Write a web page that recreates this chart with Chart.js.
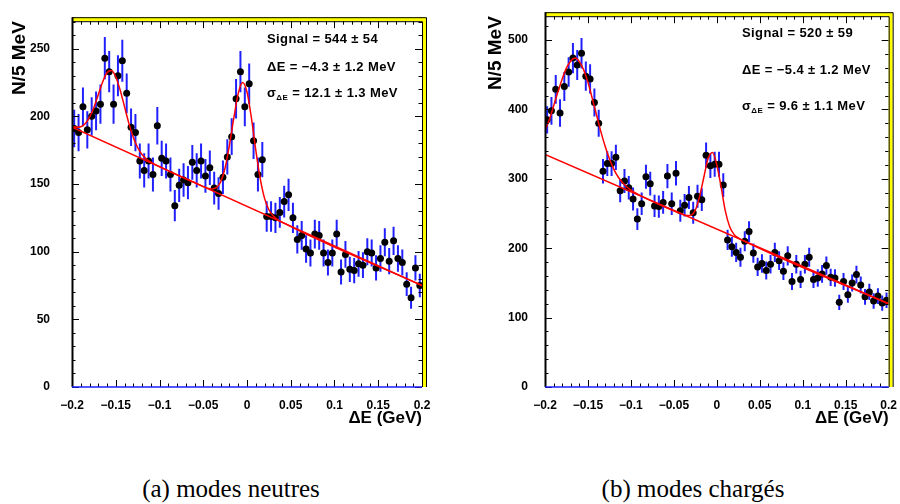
<!DOCTYPE html>
<html>
<head>
<meta charset="utf-8">
<title>Delta E fits</title>
<script src="https://cdn.jsdelivr.net/npm/chart.js@4.4.1/dist/chart.umd.min.js"></script>
<style>
  body { margin: 0; background: #fff; }
  #page { position: relative; width: 900px; height: 504px; overflow: hidden; }
  canvas { position: absolute; top: 0; }
  .fitText { position: absolute; font: bold 13px "Liberation Sans", Arial, sans-serif; letter-spacing: 0.4px; line-height: 14px; white-space: nowrap; color: #000; }
  .fitText sub { font-size: 8px; vertical-align: -3px; line-height: 0; }
  .caption { position: absolute; top: 474px; width: 300px; text-align: center; font: 25px "Liberation Serif", "Times New Roman", serif; line-height: 30px; color: #000; }
</style>
</head>
<body>
<div id="page">
  <canvas id="neutresChart" width="450" height="440" style="left:0px"></canvas>
  <canvas id="chargesChart" width="450" height="440" style="left:450px"></canvas>

  <div class="fitText" style="left:267px;top:32px">Signal = 544 ± 54</div>
  <div class="fitText" style="left:267px;top:60px">ΔE = −4.3 ± 1.2 MeV</div>
  <div class="fitText" style="left:267px;top:86px">σ<sub>ΔE</sub> = 12.1 ± 1.3 MeV</div>

  <div class="fitText" style="left:742px;top:26px">Signal = 520 ± 59</div>
  <div class="fitText" style="left:742px;top:63px">ΔE = −5.4 ± 1.2 MeV</div>
  <div class="fitText" style="left:742px;top:99px">σ<sub>ΔE</sub> = 9.6 ± 1.1 MeV</div>

  <div class="caption" style="left:81px">(a) modes neutres</div>
  <div class="caption" style="left:543px">(b) modes chargés</div>
</div>

<script>
// 80 bins of 5 MeV between -0.2 and 0.2 GeV
var binStart = -0.2, binWidth = 0.005;
var binCentres = [];
for (var b = 0; b < 80; b++) binCentres.push(+(binStart + (b + 0.5) * binWidth).toFixed(4));

var xTickValues = [-0.2, -0.15, -0.1, -0.05, 0, 0.05, 0.1, 0.15, 0.2];
var xTickLabels = ['\u22120.2', '\u22120.15', '\u22120.1', '\u22120.05', '0', '0.05', '0.1', '0.15', '0.2'];

// (a) modes neutres
var neutresCounts = [
  191, 188, 207, 190, 200, 204, 209, 243, 233, 209,
  230, 241, 217, 192, 188, 167, 160, 167, 157, 193,
  169, 167, 157, 134, 149, 153, 151, 166, 160, 167,
  156, 162, 147, 143, 155, 170, 185, 213, 233, 207,
  224, 182, 157, 168, 126, 126, 125, 129, 137, 142,
  125, 109, 112, 102, 99, 113, 112, 99, 92, 99,
  113, 85, 98, 87, 86, 91, 90, 100, 99, 88,
  95, 107, 93, 108, 95, 92, 76, 66, 88, 75
];
var neutresFitX = [-0.2, -0.195, -0.19, -0.185, -0.18, -0.175, -0.17, -0.165, -0.16, -0.155,
  -0.15, -0.145, -0.14, -0.135, -0.13, -0.125, -0.12, -0.115, -0.11, -0.1,
  -0.06, -0.04, -0.035, -0.03, -0.025, -0.02, -0.015, -0.01, -0.005, 0,
  0.005, 0.01, 0.015, 0.02, 0.025, 0.03, 0.035, 0.04, 0.2];
var neutresFitY = [192.5, 191.9, 192.3, 194.5, 199.2, 206.5, 216, 225.4, 232.2, 233.8,
  229.3, 219.5, 207.2, 194.8, 184.6, 177, 171.8, 168.5, 166.2, 162.8,
  151.1, 146.4, 147.3, 151.7, 162, 179, 199, 217, 225, 218,
  199, 175.3, 154.3, 139.6, 131, 126.3, 123.7, 121.8, 75];
var neutresBkgX = [-0.2, 0.2];
var neutresBkgY = [192, 75];
var neutresYTicks = [0, 50, 100, 150, 200, 250];

// (b) modes charges
var chargesCounts = [
  385, 398, 429, 395, 433, 454, 474, 464, 481, 448,
  444, 410, 380, 311, 322, 322, 331, 283, 297, 287,
  271, 242, 264, 303, 293, 261, 260, 266, 304, 264,
  308, 254, 262, 273, 251, 275, 270, 334, 319, 321,
  321, 291, 212, 202, 194, 187, 210, 224, 193, 173,
  178, 168, 177, 194, 182, 167, 189, 152, 177, 155,
  177, 187, 155, 157, 163, 175, 158, 157, 122, 152,
  133, 150, 162, 147, 130, 137, 124, 131, 121, 125
];
var chargesFitX = [-0.2, -0.195, -0.19, -0.185, -0.18, -0.175, -0.17, -0.165, -0.16, -0.155,
  -0.15, -0.145, -0.14, -0.135, -0.13, -0.125, -0.12, -0.115, -0.11, -0.105,
  -0.1, -0.09, -0.08, -0.04, -0.035, -0.03, -0.025, -0.02, -0.015, -0.01,
  -0.005, 0, 0.005, 0.01, 0.015, 0.02, 0.025, 0.03, 0.2];
var chargesFitY = [370, 385, 405, 425, 444, 460, 470, 474, 469, 457,
  439, 416, 392, 368, 347, 329, 314, 303, 295, 288.6,
  283.7, 276.5, 270.5, 249, 247.2, 247.7, 255, 275, 303, 330,
  338, 320, 288, 253, 231, 220, 214.8, 211.4, 120];
var chargesBkgX = [-0.2, 0.2];
var chargesBkgY = [335, 120];
var chargesYTicks = [0, 100, 200, 300, 400, 500];

var tickFont = { family: '"Liberation Sans", Arial, sans-serif', size: 12, weight: 'bold' };

// ROOT style frame: ticks pointing inwards on all four sides, yellow border top/right
var rootFrame = {
  id: 'rootFrame',
  afterDatasetsDraw: function(chart, args, opts) {
    var ctx = chart.ctx, a = chart.chartArea;
    var sx = chart.scales.x, sy = chart.scales.y;
    var i, v, p, len;
    ctx.save();
    ctx.strokeStyle = '#000';
    ctx.lineWidth = 1;
    ctx.beginPath();
    for (i = 0; i * opts.xMinor <= sx.max - sx.min + 1e-9; i++) {
      v = sx.min + i * opts.xMinor;
      p = Math.round(sx.getPixelForValue(v)) + 0.5;
      len = (i % opts.xDiv === 0) ? 7 : 3.5;
      ctx.moveTo(p, a.bottom); ctx.lineTo(p, a.bottom - len);
      ctx.moveTo(p, a.top); ctx.lineTo(p, a.top + len);
    }
    for (i = 0; i * opts.yMinor <= sy.max - sy.min + 1e-9; i++) {
      v = sy.min + i * opts.yMinor;
      p = Math.round(sy.getPixelForValue(v)) + 0.5;
      len = (i % opts.yDiv === 0) ? 7 : 3.5;
      ctx.moveTo(a.left, p); ctx.lineTo(a.left + len, p);
      ctx.moveTo(a.right, p); ctx.lineTo(a.right - len, p);
    }
    ctx.stroke();

    // yellow band
    ctx.fillStyle = '#ffff00';
    ctx.fillRect(a.left, a.top - 4, a.right - a.left + 4, 4);
    ctx.fillRect(a.right, a.top - 4, 4, a.bottom - a.top + 4);
    ctx.beginPath();
    ctx.moveTo(a.left, a.top - 3.5);
    ctx.lineTo(a.right + 4.5, a.top - 3.5);
    ctx.lineTo(a.right + 4.5, a.bottom);
    ctx.moveTo(a.left, a.top + 0.5);
    ctx.lineTo(a.right + 0.5, a.top + 0.5);
    ctx.lineTo(a.right + 0.5, a.bottom);
    ctx.stroke();

    // axes
    ctx.lineWidth = 2;
    ctx.beginPath();
    ctx.moveTo(a.left + 0.5, a.top - 4);
    ctx.lineTo(a.left + 0.5, a.bottom);
    ctx.stroke();
    ctx.strokeStyle = '#1f1fff';
    ctx.lineWidth = 1.5;
    ctx.beginPath();
    ctx.moveTo(a.left, a.bottom);
    ctx.lineTo(a.right, a.bottom);
    ctx.stroke();
    ctx.restore();
  }
};

function drawPanel(id, counts, fitX, fitY, bkgX, bkgY, yMax, yTicks, yMinor, yAxisWidth, yLabelPad, yTitlePad, padRight) {
  var points = [], errBars = [], fit = [], bkg = [];
  var i, err;
  for (i = 0; i < counts.length; i++) {
    err = Math.sqrt(counts[i]);
    points.push({x: binCentres[i], y: counts[i]});
    errBars.push({x: binCentres[i], y: counts[i] - err});
    errBars.push({x: binCentres[i], y: counts[i] + err});
    errBars.push({x: binCentres[i], y: null});
  }
  for (i = 0; i < fitX.length; i++) fit.push({x: fitX[i], y: fitY[i]});
  for (i = 0; i < bkgX.length; i++) bkg.push({x: bkgX[i], y: bkgY[i]});

  return new Chart(document.getElementById(id), {
    type: 'scatter',
    data: {
      datasets: [
        {label: 'fit', data: fit, showLine: true, borderColor: '#ff0000', borderWidth: 1.5,
          pointRadius: 0, cubicInterpolationMode: 'monotone', order: 0},
        {label: 'background', data: bkg, showLine: true, borderColor: '#ff0000', borderWidth: 1.5,
          pointRadius: 0, order: 1},
        {label: 'data', data: points, backgroundColor: '#000', borderColor: '#000',
          pointRadius: 3.5, borderWidth: 0, order: 2},
        {label: 'errors', data: errBars, showLine: true, spanGaps: false, borderColor: '#2020ff',
          borderWidth: 2, pointRadius: 0, order: 3}
      ]
    },
    options: {
      responsive: false,
      animation: false,
      devicePixelRatio: 1,
      layout: { padding: { top: 14, right: padRight, left: 0, bottom: 0 } },
      plugins: {
        legend: { display: false },
        tooltip: { enabled: false },
        rootFrame: { xMinor: 0.01, xDiv: 5, yMinor: yMinor, yDiv: 5 }
      },
      scales: {
        x: {
          type: 'linear', min: -0.2, max: 0.2,
          grid: { display: false }, border: { display: false },
          afterFit: function(s) { s.height = 53; },
          afterBuildTicks: function(s) { s.ticks = xTickValues.map(function(v) { return {value: v}; }); },
          ticks: { padding: 3, color: '#000', font: tickFont, maxRotation: 0, autoSkip: false,
            callback: function(v, i) { return xTickLabels[i]; } },
          title: { display: true, text: 'ΔE (GeV)', align: 'end', color: '#000',
            font: { family: '"Liberation Sans", Arial, sans-serif', size: 17, weight: 'bold' },
            padding: { top: 0, bottom: 11 } }
        },
        y: {
          type: 'linear', min: 0, max: yMax,
          grid: { display: false }, border: { display: false },
          afterFit: function(s) { s.width = yAxisWidth; },
          afterBuildTicks: function(s) { s.ticks = yTicks.map(function(v) { return {value: v}; }); },
          ticks: { padding: yLabelPad, color: '#000', font: tickFont },
          title: { display: true, text: 'N/5 MeV', align: 'end', color: '#000',
            font: { family: '"Liberation Sans", Arial, sans-serif', size: 19, weight: 'bold' },
            padding: { top: yTitlePad, bottom: 0 } }
        }
      }
    },
    plugins: [rootFrame]
  });
}

drawPanel('neutresChart', neutresCounts, neutresFitX, neutresFitY, neutresBkgX, neutresBkgY,
  270.3, neutresYTicks, 10, 72, 14, 8, 28);
drawPanel('chargesChart', chargesCounts, chargesFitX, chargesFitY, chargesBkgX, chargesBkgY,
  534.4, chargesYTicks, 20, 95, 9, 34, 7);
</script>
</body>
</html>
